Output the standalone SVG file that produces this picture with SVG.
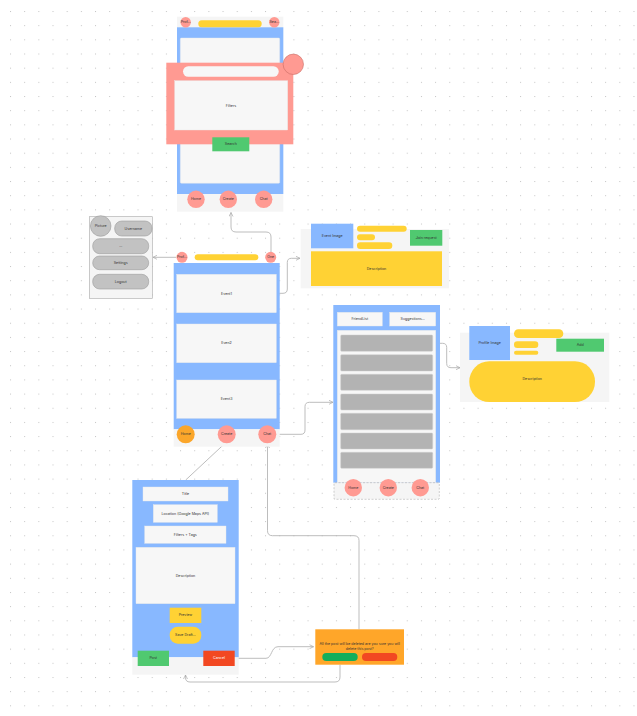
<svg xmlns="http://www.w3.org/2000/svg" width="637" height="716" viewBox="0 0 637 716">
<defs>
<pattern id="dots" x="10" y="11" width="14.17" height="14.17" patternUnits="userSpaceOnUse">
<rect x="0" y="0" width="1" height="1" fill="#c4c4c4"/>
</pattern>
<marker id="arr" viewBox="0 0 10 10" refX="9" refY="5" markerWidth="5" markerHeight="5" orient="auto" markerUnits="userSpaceOnUse">
<path d="M1,1 L9,5 L1,9" fill="none" stroke="#aaaaaa" stroke-width="1.4"/>
</marker>
</defs>
<style>
text{font-family:Inter,"Liberation Sans",sans-serif;font-size:3.6px;fill:#333;text-anchor:middle;dominant-baseline:central}
.bg{fill:#f5f5f5}
.blue{fill:#88b8ff}
.card{fill:#f7f7f7;stroke:#e8e8e8;stroke-width:0.4}
.sal{fill:#ff9a92}
.yel{fill:#ffd234}
.grn{fill:#50c970}
.pill{fill:#c2c2c2;stroke:#9a9a9a;stroke-width:0.6}
.row{fill:#b3b3b3;stroke:#cfcfcf;stroke-width:0.5}
.con{fill:none;stroke:#b5b5b5;stroke-width:0.9}
</style>
<rect width="637" height="716" fill="#ffffff"/>
<rect width="637" height="716" fill="url(#dots)"/>

<g id="connectors">
<path class="con" d="M271,252 V237 Q271,232 266,232 H236 Q231,232 231,227 V212.5" marker-end="url(#arr)"/>
<path class="con" d="M176,257.3 H153" marker-end="url(#arr)"/>
<path class="con" d="M279,293.3 H283 Q287.3,293.3 287.3,289 V262.5 Q287.3,258.3 291.5,258.3 H300" marker-end="url(#arr)"/>
<path class="con" d="M276.3,434.3 H301 Q305,434.3 305,430 V406.5 Q305,402.3 309.5,402.3 H333" marker-end="url(#arr)"/>
<path class="con" d="M432.7,343.3 H442.5 Q446.7,343.3 446.7,347.5 V363.5 Q446.7,367.7 451,367.7 H460" marker-end="url(#arr)"/>
<path class="con" d="M225,443.3 L185.7,480"/>
<path class="con" d="M234.7,658.3 H266 C272,658.3 271,646.7 278,646.7 H313.5" marker-end="url(#arr)"/>
<path class="con" d="M340,664.7 V677 Q340,682 335,682 H190 Q185.5,682 185.5,677.5 V675" marker-end="url(#arr)"/>
<path class="con" d="M359,629.3 V540.5 Q359,535.7 354,535.7 H272.5 Q267.5,535.7 267.5,530.7 V444" marker-end="url(#arr)"/>
</g>

<g id="search-screen">
<rect class="bg" x="177" y="16.7" width="106.3" height="195"/>
<rect class="blue" x="177" y="27.3" width="106.3" height="166.7"/>
<rect class="card" x="180.3" y="38" width="99.4" height="145.3" rx="1"/>
<circle class="sal" cx="185.7" cy="22.3" r="5.2"/>
<text x="185.7" y="22.3" font-size="3">Prof...</text>
<rect class="yel" x="198.3" y="20.3" width="63.4" height="7" rx="3.5"/>
<circle class="sal" cx="274.3" cy="22.3" r="5.2"/>
<text x="274.3" y="22.3" font-size="3">Sea...</text>
<rect class="sal" x="166.3" y="62.7" width="127" height="81.6"/>
<circle cx="293.3" cy="64.3" r="10.2" fill="#ff9a92" stroke="#c96b63" stroke-width="0.6"/>
<rect x="183" y="66.3" width="95.7" height="10.4" rx="5.2" fill="#f7f7f7"/>
<rect class="card" x="174.7" y="80.7" width="113" height="49.3"/>
<text x="231" y="105.7">Filters</text>
<rect class="grn" x="212.3" y="137.3" width="37" height="14"/>
<text x="230.8" y="144.3">Search</text>
<circle class="sal" cx="196" cy="199.3" r="8.7"/>
<text x="196" y="199.3">Home</text>
<circle class="sal" cx="228.3" cy="199.3" r="8.7"/>
<text x="228.3" y="199.3">Create</text>
<circle class="sal" cx="263.7" cy="199.3" r="8.7"/>
<text x="263.7" y="199.3">Chat</text>
</g>

<g id="profile-menu">
<rect x="89.3" y="216.7" width="63" height="81.6" fill="#f5f5f5" stroke="#a8a8a8" stroke-width="0.6"/>
<rect class="pill" x="114.7" y="221" width="37.3" height="15" rx="7"/>
<text x="133.3" y="228.5">Username</text>
<circle class="pill" cx="100.7" cy="226" r="10.3"/>
<text x="100.7" y="226">Picture</text>
<rect class="pill" x="92.7" y="238.7" width="56" height="15" rx="7"/>
<text x="120.7" y="246.2">...</text>
<rect class="pill" x="92.7" y="256" width="56" height="13.7" rx="6.8"/>
<text x="120.7" y="262.8">Settings</text>
<rect class="pill" x="92.7" y="274.3" width="56" height="14.7" rx="7"/>
<text x="120.7" y="281.7">Logout</text>
</g>

<g id="event-detail">
<rect class="bg" x="300.7" y="229" width="148.3" height="59.3"/>
<rect class="blue" x="311" y="223.7" width="42.3" height="24.6"/>
<text x="332.2" y="236">Event Image</text>
<rect class="yel" x="357" y="225.7" width="49.7" height="6" rx="3"/>
<rect class="yel" x="357" y="234.3" width="18" height="6" rx="3"/>
<rect class="yel" x="357" y="242.3" width="35.3" height="6.7" rx="3.3"/>
<rect class="grn" x="410" y="230" width="32.3" height="15.7"/>
<text x="426.2" y="237.8">Join request</text>
<rect class="yel" x="311" y="251.3" width="131" height="34.7"/>
<text x="376.5" y="268.7">Description</text>
</g>

<g id="home-feed">
<circle class="sal" cx="182" cy="257.3" r="5.5"/>
<text x="182" y="257.3" font-size="3">Prof...</text>
<rect class="yel" x="194.7" y="254.3" width="63.6" height="6" rx="3"/>
<circle class="sal" cx="270.7" cy="257.3" r="5.5"/>
<text x="270.7" y="257.3" font-size="3">One</text>
<rect class="blue" x="173.7" y="263" width="106" height="166.3"/>
<rect class="bg" x="173.7" y="429.3" width="106" height="17.4"/>
<rect class="card" x="176.7" y="274.3" width="99.6" height="38.4"/>
<text x="226.5" y="293.5">Event1</text>
<rect class="card" x="176.7" y="324" width="99.6" height="38.7"/>
<text x="226.5" y="343.3">Even2</text>
<rect class="card" x="176.7" y="380" width="99.6" height="38.3"/>
<text x="226.5" y="399.2">Event3</text>
<circle cx="185.7" cy="434.3" r="9" fill="#fba62a"/>
<text x="185.7" y="434.3">Home</text>
<circle class="sal" cx="226.7" cy="434.3" r="9"/>
<text x="226.7" y="434.3">Create</text>
<circle class="sal" cx="267.3" cy="434.3" r="9"/>
<text x="267.3" y="434.3">Chat</text>
</g>

<g id="chat-screen">
<rect class="blue" x="333.3" y="305" width="106.7" height="177.7"/>
<rect class="card" x="337.3" y="312.3" width="45" height="13.7"/>
<text x="359.8" y="319.2">FriendList</text>
<rect class="card" x="389.7" y="312.3" width="46" height="13.7"/>
<text x="412.7" y="319.2">Suggestions...</text>
<rect class="card" x="337.3" y="330.3" width="98.4" height="152.4"/>
<rect class="row" x="340.7" y="335" width="92" height="16.3" rx="1"/>
<rect class="row" x="340.7" y="354.7" width="92" height="16.3" rx="1"/>
<rect class="row" x="340.7" y="374.3" width="92" height="16" rx="1"/>
<rect class="row" x="340.7" y="394" width="92" height="16" rx="1"/>
<rect class="row" x="340.7" y="413.3" width="92" height="16.4" rx="1"/>
<rect class="row" x="340.7" y="433" width="92" height="16" rx="1"/>
<rect class="row" x="340.7" y="452.3" width="92" height="16" rx="1"/>
<rect x="334" y="482.7" width="105.3" height="16.6" fill="#f5f5f5" stroke="#b0b0b0" stroke-width="0.6" stroke-dasharray="2,1.5" rx="1"/>
<circle class="sal" cx="353.3" cy="487.7" r="8.7"/>
<text x="353.3" y="487.7">Home</text>
<circle class="sal" cx="388.3" cy="487.7" r="8.7"/>
<text x="388.3" y="487.7">Create</text>
<circle class="sal" cx="420.3" cy="487.7" r="8.7"/>
<text x="420.3" y="487.7">Chat</text>
</g>

<g id="profile-card">
<rect class="bg" x="460" y="332.7" width="149.3" height="69.3"/>
<rect class="blue" x="469.3" y="326" width="40.7" height="34"/>
<text x="489.7" y="343">Profile Image</text>
<rect class="yel" x="514" y="329.3" width="49.3" height="8.7" rx="4.3"/>
<rect class="yel" x="514" y="341.3" width="24.3" height="6.7" rx="3.3"/>
<rect class="yel" x="514" y="350.7" width="24.3" height="4" rx="2"/>
<rect class="grn" x="556.3" y="338.7" width="47.7" height="13"/>
<text x="580.2" y="345.2">Add</text>
<rect class="yel" x="469.3" y="361.3" width="125.7" height="40.7" rx="20"/>
<text x="532.2" y="379.3">Description</text>
</g>

<g id="create-form">
<rect class="blue" x="132.3" y="480" width="106.4" height="177.3"/>
<rect class="bg" x="132.3" y="657.3" width="106.4" height="17.4"/>
<rect class="card" x="143" y="487" width="85" height="14"/>
<text x="185.5" y="494">Title</text>
<rect class="card" x="153.3" y="504.7" width="64" height="17.6"/>
<text x="185.3" y="513.5">Location (Google Maps API)</text>
<rect class="card" x="144.7" y="526" width="81.3" height="17.3"/>
<text x="185.3" y="534.7">Filters + Tags</text>
<rect class="card" x="136" y="547.3" width="99" height="56.4"/>
<text x="185.5" y="575.5">Description</text>
<rect class="yel" x="169.7" y="607.7" width="31.6" height="15.3"/>
<text x="185.5" y="615.3">Preview</text>
<rect class="yel" x="169.7" y="626.7" width="31.6" height="17" rx="8"/>
<text x="185.5" y="635.2">Save Draft...</text>
<rect class="grn" x="137.7" y="650.7" width="31.3" height="15.3"/>
<text x="153.3" y="658.3">Post</text>
<rect x="203.3" y="650.7" width="31.4" height="15.3" fill="#f24822"/>
<text x="219" y="658.3" style="fill:#ffffff">Cancel</text>
</g>

<g id="delete-dialog">
<rect x="315.3" y="629.3" width="88.7" height="35.4" fill="#ffa629"/>
<text x="359.7" y="644.3" font-size="3.1">All the post will be deleted are you sure you will</text>
<text x="359.7" y="649.3" font-size="3.1">delete this post?</text>
<rect x="322.3" y="653" width="35.4" height="8" rx="4" fill="#14ae5c"/>
<rect x="362" y="653" width="35.3" height="8" rx="4" fill="#f24822"/>
</g>
</svg>
